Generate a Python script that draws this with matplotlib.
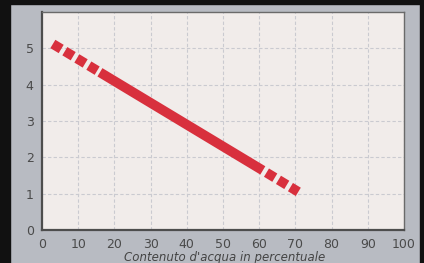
import numpy as np
import matplotlib
matplotlib.use("Agg")
import matplotlib.pyplot as plt
from matplotlib.patches import Rectangle

# water content (%) vs value, line drawn in three pieces: dashed / solid / dashed
x_start = [3, 16]
y_start = [5.12, 4.34]
x_mid = [16, 61]
y_mid = [4.34, 1.64]
x_end = [61, 70.8]
y_end = [1.64, 1.05]

xticks = [0, 10, 20, 30, 40, 50, 60, 70, 80, 90, 100]
yticks = [0, 1, 2, 3, 4, 5]
xlabel = "Contenuto d'acqua in percentuale"

W, H = 424, 263
fig = plt.figure(figsize=(W / 100, H / 100), dpi=100)
fig.patch.set_facecolor('#b8bbc2')

# black frame bits of the scan
fig.add_artist(Rectangle((0, 0), 10 / W, 1, transform=fig.transFigure, color='#111111', zorder=0))
fig.add_artist(Rectangle((0, 1 - 4 / H), 1, 4 / H, transform=fig.transFigure, color='#111111', zorder=0))
fig.add_artist(Rectangle((420 / W, 0), 4 / W, 1, transform=fig.transFigure, color='#111111', zorder=0))

ax = fig.add_axes([42 / W, 33 / H, (404 - 42) / W, (230 - 12) / H])
ax.set_facecolor('#f1ecea')
ax.set_xlim(0, 100)
ax.set_ylim(0, 6)
ax.set_xticks(xticks)
ax.set_yticks(yticks)
ax.tick_params(length=0, labelsize=9, colors='#4a4a4a', pad=6)

ax.grid(True, color='#cacad0', linestyle=(0, (3, 2)), linewidth=0.8)
ax.set_axisbelow(True)

for s in ['left', 'bottom']:
    ax.spines[s].set_color('#4d4d4d')
    ax.spines[s].set_linewidth(1.6)
for s in ['top', 'right']:
    ax.spines[s].set_color('#6a6a6a')
    ax.spines[s].set_linewidth(1.0)

red = '#d8303d'
lw = 7
dash = (1.0, 0.44)
ax.plot(x_mid, y_mid, color=red, linewidth=lw, solid_capstyle='butt', zorder=3)
ax.plot(x_start, y_start, color=red, linewidth=lw, linestyle=(0, dash),
        dash_capstyle='butt', zorder=3)
ax.plot(x_end, y_end, color=red, linewidth=lw, linestyle=(dash[0], dash),
        dash_capstyle='butt', zorder=3)

fig.text(225 / W, 1 - 251 / H, xlabel, ha='center', va='top', fontsize=8.5,
         style='italic', color='#444444')

fig.savefig('out.png', dpi=100, facecolor=fig.get_facecolor())
